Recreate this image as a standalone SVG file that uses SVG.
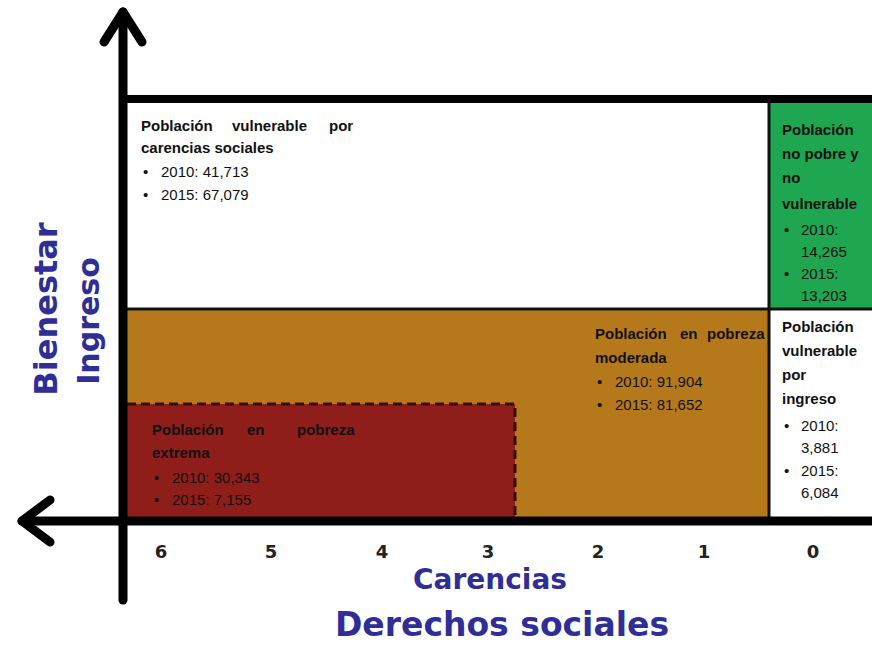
<svg xmlns="http://www.w3.org/2000/svg" width="872" height="646" viewBox="0 0 872 646">
<style>
.t{font-family:"Liberation Sans",Arial,sans-serif;font-size:15px;fill:#111}
.b{font-weight:bold}
.ax{stroke:#000;stroke-width:9;fill:none;stroke-linecap:round;stroke-linejoin:round}
.num{font-family:"DejaVu Sans",Verdana,sans-serif;font-weight:bold;font-size:18px;fill:#222}
.blue{font-family:"DejaVu Sans",Verdana,sans-serif;font-weight:bold;fill:#2e2e96}
</style>
<rect width="872" height="646" fill="#fff"/>
<g id="region-vulnerable-carencias">
<rect x="127" y="103" width="641" height="205" fill="#fff"/>
<text class="t b"><tspan x="141" y="131">Población</tspan><tspan x="232" y="131">vulnerable</tspan><tspan x="329" y="131">por</tspan><tspan x="141" y="153">carencias sociales</tspan></text>
<text class="t"><tspan x="143" y="177">•</tspan><tspan x="161" y="177">2010: 41,713</tspan><tspan x="143" y="200">•</tspan><tspan x="161" y="200">2015: 67,079</tspan></text>
</g>
<g id="region-no-pobre">
<rect x="770" y="103" width="102" height="205" fill="#1fa650"/>
<text class="t b"><tspan x="782" y="135">Población</tspan><tspan x="782" y="159">no pobre y</tspan><tspan x="782" y="183">no</tspan><tspan x="782" y="209">vulnerable</tspan></text>
<text class="t"><tspan x="784" y="235">•</tspan><tspan x="801" y="235">2010:</tspan><tspan x="801" y="257">14,265</tspan><tspan x="784" y="279">•</tspan><tspan x="801" y="279">2015:</tspan><tspan x="801" y="301">13,203</tspan></text>
</g>
<g id="region-moderada">
<rect x="127" y="310" width="641" height="207" fill="#b5791c"/>
<text class="t b"><tspan x="595" y="339">Población</tspan><tspan x="680" y="339">en</tspan><tspan x="707" y="339">pobreza</tspan><tspan x="595" y="363">moderada</tspan></text>
<text class="t"><tspan x="597" y="387">•</tspan><tspan x="615" y="387">2010: 91,904</tspan><tspan x="597" y="410">•</tspan><tspan x="615" y="410">2015: 81,652</tspan></text>
</g>
<g id="region-vulnerable-ingreso">
<rect x="770" y="310" width="102" height="207" fill="#fff"/>
<text class="t b"><tspan x="782" y="332">Población</tspan><tspan x="782" y="356">vulnerable</tspan><tspan x="782" y="380">por</tspan><tspan x="782" y="404">ingreso</tspan></text>
<text class="t"><tspan x="784" y="431">•</tspan><tspan x="801" y="431">2010:</tspan><tspan x="801" y="453">3,881</tspan><tspan x="784" y="476">•</tspan><tspan x="801" y="476">2015:</tspan><tspan x="801" y="498">6,084</tspan></text>
</g>
<g id="region-extrema">
<rect x="127" y="404" width="388" height="113" fill="#8f1d1a"/>
<path d="M127 404 H515 V517" fill="none" stroke="#3a0a08" stroke-width="3" stroke-dasharray="9 5"/>
<text class="t b"><tspan x="152" y="435">Población</tspan><tspan x="247" y="435">en</tspan><tspan x="297" y="435">pobreza</tspan><tspan x="152" y="458">extrema</tspan></text>
<text class="t"><tspan x="154" y="483">•</tspan><tspan x="172" y="483">2010: 30,343</tspan><tspan x="154" y="505">•</tspan><tspan x="172" y="505">2015: 7,155</tspan></text>
</g>
<g id="connectors">
<line x1="123" y1="99" x2="872" y2="99" stroke="#000" stroke-width="8"/>
<line x1="123" y1="309" x2="872" y2="309" stroke="#111" stroke-width="3"/>
<line x1="769" y1="99" x2="769" y2="520" stroke="#111" stroke-width="3"/>
<line x1="123" y1="12" x2="123" y2="600" class="ax"/>
<path d="M104 42 L123 12 L142 42" class="ax"/>
<line x1="22" y1="521" x2="872" y2="521" class="ax"/>
<path d="M50 500 L22 521 L50 542" class="ax"/>
</g>
<g id="axis-labels">
<text class="num" text-anchor="middle"><tspan x="161" y="558">6</tspan><tspan x="271" y="558">5</tspan><tspan x="382" y="558">4</tspan><tspan x="488" y="558">3</tspan><tspan x="598" y="558">2</tspan><tspan x="704" y="558">1</tspan><tspan x="813" y="558">0</tspan></text>
<text class="blue" font-size="28" x="490" y="589" text-anchor="middle">Carencias</text>
<text class="blue" font-size="33" x="502" y="636" text-anchor="middle">Derechos sociales</text>
<text class="blue" font-size="32" transform="translate(57,309) rotate(-90)" text-anchor="middle">Bienestar</text>
<text class="blue" font-size="30" transform="translate(99,321) rotate(-90)" text-anchor="middle">Ingreso</text>
</g>
</svg>
